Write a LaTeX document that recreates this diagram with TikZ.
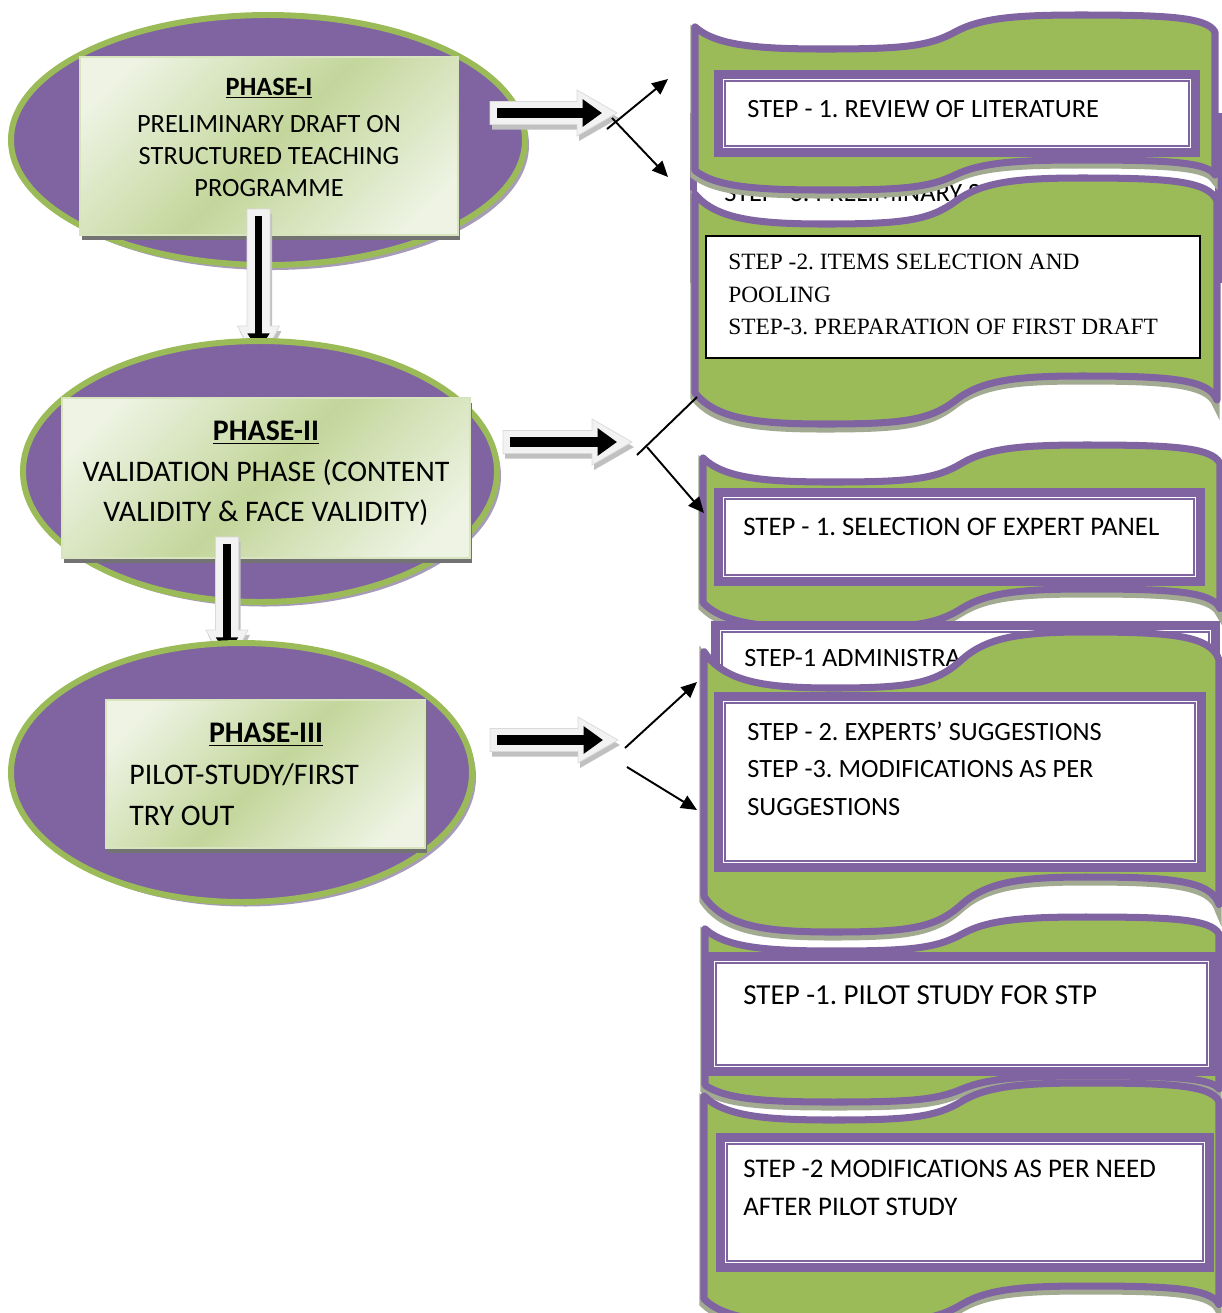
\documentclass[tikz,border=0pt]{standalone}
\usepackage{fontspec}
\setmainfont{Carlito}
\newfontfamily\serifstep{Liberation Serif}
\usetikzlibrary{arrows.meta,positioning,calc}
\frenchspacing

\definecolor{wpurple}{HTML}{8064A2}
\definecolor{wgreen}{HTML}{9BBB59}
\definecolor{phlight}{HTML}{EEF3E3}
\definecolor{phdark}{HTML}{C3D69B}
\definecolor{phedge}{HTML}{D7E4BD}
\definecolor{ovshadow}{HTML}{A79CB8}
\definecolor{bnshadow}{HTML}{A2AB91}
\definecolor{arrfill}{HTML}{F2F2F2}
\definecolor{arredge}{HTML}{D9D9D9}
\definecolor{arrshadow}{HTML}{C0C0C0}

\pgfdeclareverticalshading{phshade}{100bp}{color(0bp)=(phlight); color(22bp)=(phlight); color(50bp)=(phdark); color(78bp)=(phlight); color(100bp)=(phlight)}

\tikzset{
  phaseoval/.style={fill=wpurple, draw=wgreen, line width=3.4pt},
  ovalshadow/.style={fill=ovshadow},
  phasebox/.style={shading=phshade, shading angle=45, draw=phedge, line width=0.6pt},
  boxshadow/.style={fill=black!55},
  banner/.style={fill=wgreen, draw=wpurple, line width=4pt, line join=round},
  bannershadow/.style={fill=bnshadow, draw=bnshadow, line width=4pt, shift={(-1,5)}},
  stepframe/.style={fill=white, draw=wpurple, line width=5pt},
  stepline/.style={draw=wpurple, line width=0.8pt},
  plainbox/.style={fill=white, draw=black, line width=1pt},
  blockarr/.style={fill=arrfill, draw=arredge, line width=0.4pt},
  blockshadow/.style={fill=arrshadow, shift={(2,5)}},
  fatarr/.style={line width=5.7pt, -{Triangle[length=11pt,width=15pt]}},
  fatdown/.style={line width=4.5pt, -{Triangle[length=10pt,width=12pt]}},
  thinarr/.style={line width=1.1pt, -{Triangle[length=9pt,width=8pt]}},
  thinline/.style={line width=1.1pt},
  phasetxt/.style={inner sep=0pt, anchor=north, align=center},
  steptxt/.style={inner sep=0pt, anchor=north west, align=left},
}

% wave shape: x0, top y, width, top amplitude, height, bottom amplitude
\newcommand{\wavepath}[6]{%
 (#1,{#2+0.35*#4}) .. controls ({#1+0.04*#3},{#2+0.9*#4}) and ({#1+0.12*#3},{#2+#4}) .. ({#1+0.25*#3},{#2+#4})
 .. controls ({#1+0.4*#3},{#2+#4}) and ({#1+0.45*#3},{#2+0.92*#4}) .. ({#1+0.5*#3},{#2+0.5*#4})
 .. controls ({#1+0.55*#3},{#2+0.08*#4}) and ({#1+0.62*#3},{#2}) .. ({#1+0.74*#3},{#2})
 .. controls ({#1+0.9*#3},{#2}) and ({#1+0.985*#3},{#2+0.05*#4}) .. ({#1+#3},{#2+0.5*#4})
 -- ({#1+#3},{#2+0.5*#6+#5})
 .. controls ({#1+0.985*#3},{#2+0.05*#6+#5}) and ({#1+0.9*#3},{#2+#5}) .. ({#1+0.74*#3},{#2+#5})
 .. controls ({#1+0.62*#3},{#2+#5}) and ({#1+0.55*#3},{#2+0.08*#6+#5}) .. ({#1+0.5*#3},{#2+0.5*#6+#5})
 .. controls ({#1+0.45*#3},{#2+0.92*#6+#5}) and ({#1+0.4*#3},{#2+#6+#5}) .. ({#1+0.25*#3},{#2+#6+#5})
 .. controls ({#1+0.12*#3},{#2+#6+#5}) and ({#1+0.04*#3},{#2+0.9*#6+#5}) .. (#1,{#2+0.35*#6+#5})
 -- cycle}
\newcommand{\wavebanner}[6]{%
  \draw[bannershadow] \wavepath{#1}{#2}{#3}{#4}{#5}{#6};
  \draw[banner] \wavepath{#1}{#2}{#3}{#4}{#5}{#6};}
% framed step box: x0, y0, x1, y1
\newcommand{\stepbox}[4]{%
  \draw[stepframe] ({#1+4.5},{#2+4.5}) rectangle ({#3-4.5},{#4-4.5});
  \draw[stepline] ({#1+11},{#2+11}) rectangle ({#3-11},{#4-11});}
% block arrows: start, tip, centre line
\newcommand{\rblock}[3]{%
  \fill[blockshadow] (#1,{#3-11.5}) -- ({#2-40},{#3-11.5}) -- ({#2-40},{#3-23}) -- (#2,#3) -- ({#2-40},{#3+23}) -- ({#2-40},{#3+11.5}) -- (#1,{#3+11.5}) -- cycle;
  \draw[blockarr] (#1,{#3-11.5}) -- ({#2-40},{#3-11.5}) -- ({#2-40},{#3-23}) -- (#2,#3) -- ({#2-40},{#3+23}) -- ({#2-40},{#3+11.5}) -- (#1,{#3+11.5}) -- cycle;
  \draw[fatarr] ({#1+7},#3) -- ({#2-15},#3);}
\newcommand{\dblock}[3]{%
  \fill[blockshadow] ({#1-11.5},#2) -- ({#1+11.5},#2) -- ({#1+11.5},{#3-40}) -- ({#1+21},{#3-40}) -- (#1,#3) -- ({#1-21},{#3-40}) -- ({#1-11.5},{#3-40}) -- cycle;
  \draw[blockarr] ({#1-11.5},#2) -- ({#1+11.5},#2) -- ({#1+11.5},{#3-40}) -- ({#1+21},{#3-40}) -- (#1,#3) -- ({#1-21},{#3-40}) -- ({#1-11.5},{#3-40}) -- cycle;
  \draw[fatdown] (#1,{#2+7}) -- (#1,{#3-15});}

\begin{document}
\begin{tikzpicture}[x=0.02cm, y=-0.02cm]
	\useasboundingbox (0,0) rectangle (1222,1313);
	\clip (0,0) rectangle (1222,1313);
	% phase I
	\fill[ovalshadow] (272,145) ellipse [x radius=257, y radius=125];
	\draw[phaseoval] (268,140) ellipse [x radius=257, y radius=125];
	\fill[boxshadow] (82,62) rectangle (460,240);
	\draw[phasebox] (80,57) rectangle (458,235);
	\node[phasetxt, font=\fontsize{15}{18.1}\selectfont] (ph1) at (269,77.5) {\underline{\textbf{PHASE-I}}\\[3.4pt]PRELIMINARY DRAFT ON\\STRUCTURED TEACHING\\PROGRAMME};
	\dblock{258.5}{209}{366}
	% phase II
	\fill[ovalshadow] (264,476) ellipse [x radius=237, y radius=130.5];
	\draw[phaseoval] (260,471.5) ellipse [x radius=237, y radius=130.5];
	\fill[boxshadow] (64,403) rectangle (472,563);
	\draw[phasebox] (62,398) rectangle (470,558);
	\node[phasetxt, font=\fontsize{17}{23.2}\selectfont] (ph2) at (266,420.4) {\underline{\textbf{PHASE-II}}\\VALIDATION PHASE (CONTENT\\VALIDITY \& FACE VALIDITY)};
	\dblock{227}{537}{670}
	% phase III
	\fill[ovalshadow] (245.5,777) ellipse [x radius=230.5, y radius=129.5];
	\draw[phaseoval] (241.5,772.5) ellipse [x radius=230.5, y radius=129.5];
	\fill[boxshadow] (108,705) rectangle (427,853);
	\draw[phasebox] (106,700) rectangle (425,848);
	\node[phasetxt, font=\fontsize{17}{23.2}\selectfont] (ph3t) at (266,722.4) {\underline{\textbf{PHASE-III}}};
	\node[steptxt, font=\fontsize{17}{23.2}\selectfont] (ph3) at (129,763.4) {PILOT-STUDY/FIRST\\TRY OUT};
	% block arrows
	\rblock{490}{617}{113}
	\rblock{503}{632}{442}
	\rblock{490}{618}{740}
	% steps of phase I
	\draw[wpurple, fill=white, line width=4pt] (693.5,116.5) rectangle (1218.5,279.5);
	\node[steptxt, anchor=west, font=\fontsize{15}{18}\selectfont] (s0) at (724,193) {STEP -3. PRELIMINARY S};
	\wavebanner{695}{15}{520}{34}{145}{30}
	\stepbox{714}{70}{1200}{157}
	\node[steptxt, anchor=west, font=\fontsize{15}{18}\selectfont] (s1) at (747,109) {STEP - 1. REVIEW OF LITERATURE};
	\wavebanner{695}{178}{522}{46}{198}{48}
	\draw[plainbox] (706,236) rectangle (1200,358);
	\node[steptxt, font=\serifstep\fontsize{13.3}{18.4}\selectfont] (s2) at (728,254) {STEP -2. ITEMS SELECTION AND\\POOLING\\STEP-3. PREPARATION OF FIRST DRAFT};
	% steps of phase II
	\wavebanner{703}{445}{517}{37}{144}{39}
	\stepbox{714}{488}{1205}{586}
	\node[steptxt, anchor=west, font=\fontsize{15.25}{18}\selectfont] (s3) at (743,527) {STEP - 1. SELECTION OF EXPERT PANEL};
	\stepbox{711}{621}{1220}{720}
	\node[steptxt, anchor=west, font=\fontsize{15}{18}\selectfont] (s4) at (744,658) {STEP-1 ADMINISTRA};
	\wavebanner{704}{632}{515}{56}{245}{55}
	\stepbox{714}{692}{1206}{872}
	\node[steptxt, font=\fontsize{15}{21.3}\selectfont] (s5) at (747,721.5) {STEP - 2. EXPERTS' SUGGESTIONS\\STEP -3. MODIFICATIONS AS PER\\SUGGESTIONS};
	% steps of phase III
	\wavebanner{705}{917}{514}{34}{159}{26}
	\stepbox{705}{952}{1218}{1076}
	\node[steptxt, anchor=west, font=\fontsize{16.5}{22}\selectfont] (s6) at (743,995) {STEP -1. PILOT STUDY FOR STP};
	\wavebanner{704}{1083}{515}{37}{203}{37}
	\stepbox{716}{1133}{1214}{1272}
	\node[steptxt, font=\fontsize{15.3}{22}\selectfont] (s7) at (743,1159.2) {STEP -2 MODIFICATIONS AS PER NEED\\AFTER PILOT STUDY};
	% split arrows
	\coordinate (a1) at (607,129); \coordinate (a1u) at (668,79);
	\coordinate (b1) at (612,118); \coordinate (b1d) at (668,177);
	\coordinate (a2) at (637,455); \coordinate (a2u) at (697,397);
	\coordinate (b2) at (647,447); \coordinate (b2d) at (704,513);
	\coordinate (a3) at (625,748); \coordinate (a3u) at (697,682);
	\coordinate (b3) at (627,767); \coordinate (b3d) at (697,810);
	\draw[thinarr] (a1) -- (a1u);
	\draw[thinarr] (b1) -- (b1d);
	\draw[thinline] (a2) -- (a2u);
	\draw[thinarr] (b2) -- (b2d);
	\draw[thinarr] (a3) -- (a3u);
	\draw[thinarr] (b3) -- (b3d);
\end{tikzpicture}
\end{document}
